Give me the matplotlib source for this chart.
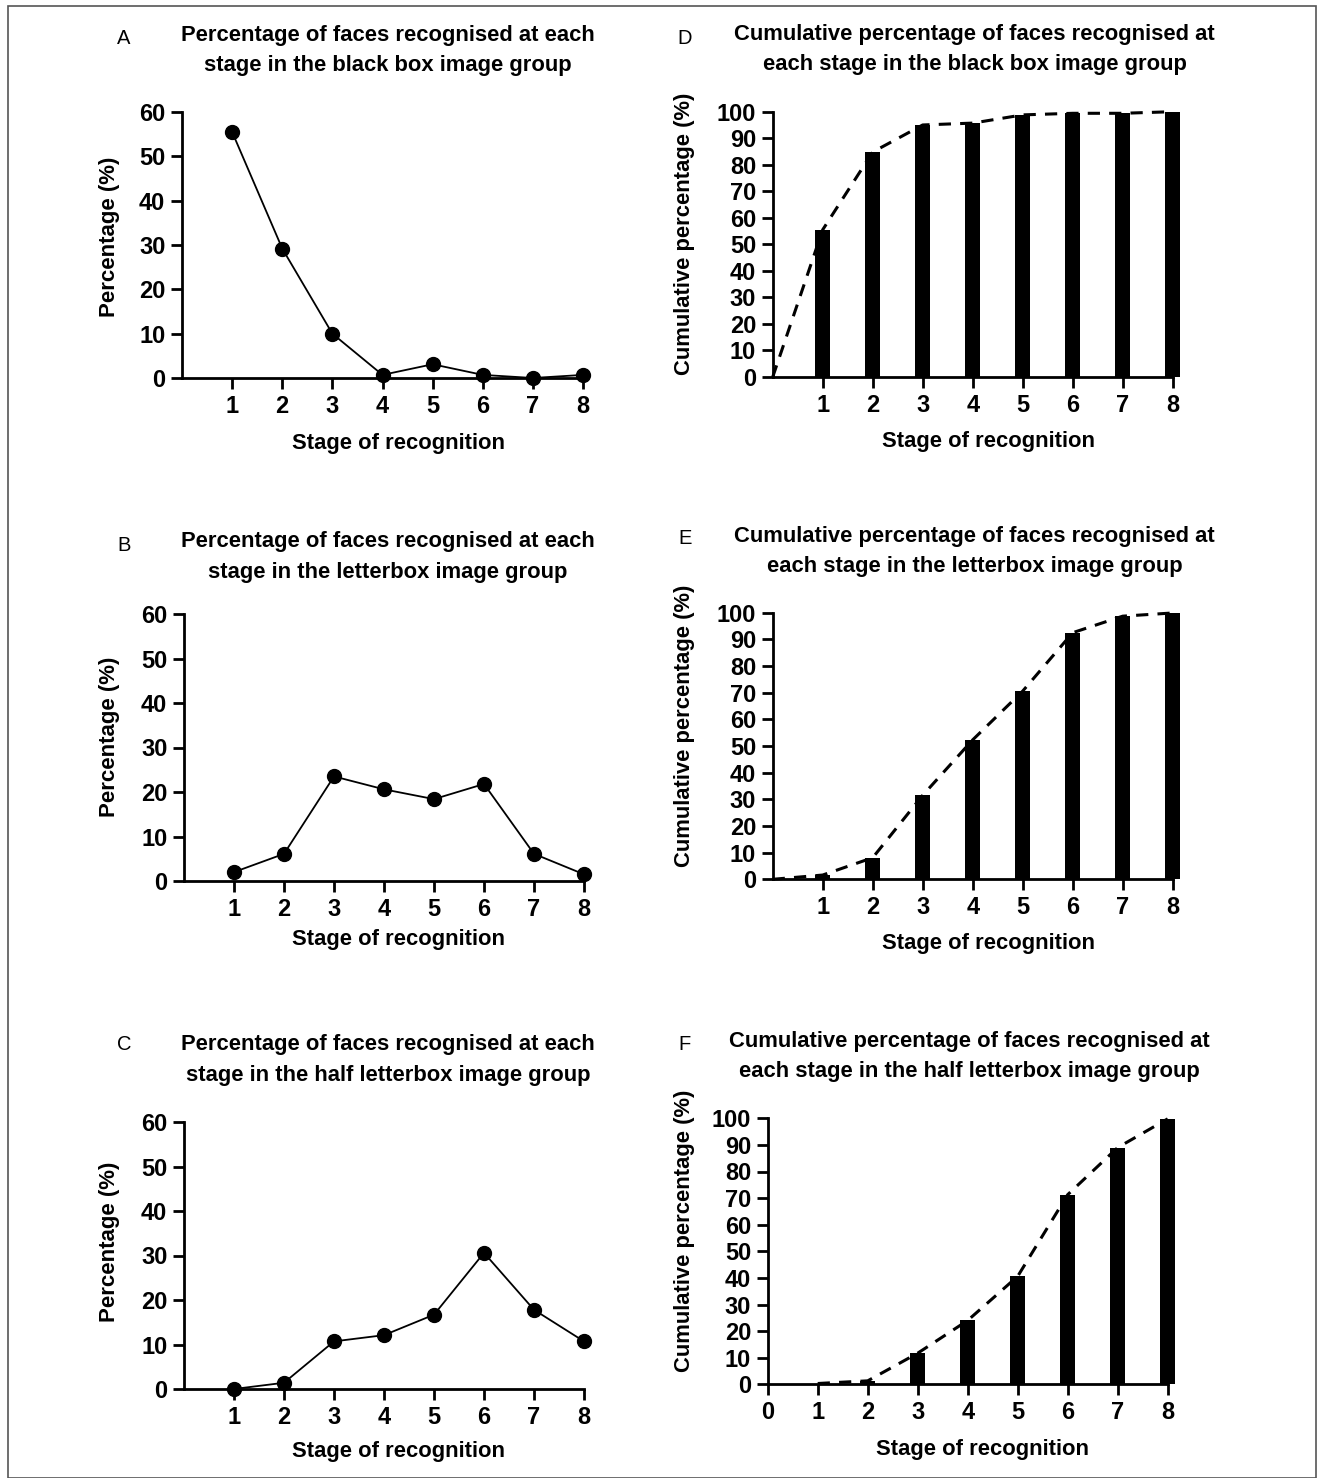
# -*- coding: utf-8 -*-
import numpy as np
import matplotlib
matplotlib.use('Agg')
import matplotlib.pyplot as plt
from matplotlib.patches import Rectangle

plt.rcParams['font.family'] = ['Liberation Sans', 'DejaVu Sans']

W, H = 1318, 1478

stages = [1, 2, 3, 4, 5, 6, 7, 8]

# per-stage percentages (left column)
black_box = [55.5, 29.2, 10.0, 0.7, 3.1, 0.7, 0.0, 0.7]
letterbox = [2.0, 6.1, 23.5, 20.6, 18.4, 21.8, 6.1, 1.5]
half_letterbox = [0.0, 1.4, 10.7, 12.1, 16.7, 30.6, 17.8, 10.7]

# cumulative percentages (right column)
cum_black_box = [55.5, 84.8, 95.0, 95.7, 98.8, 99.4, 99.4, 100.0]
cum_letterbox = [1.6, 8.1, 31.5, 52.3, 70.6, 92.5, 98.7, 99.9]
cum_half_letterbox = [0.3, 1.3, 11.7, 24.0, 40.6, 71.3, 89.0, 99.8]

left_titles = [
    'Percentage of faces recognised at each\nstage in the black box image group',
    'Percentage of faces recognised at each\nstage in the letterbox image group',
    'Percentage of faces recognised at each\nstage in the half letterbox image group',
]
right_titles = [
    'Cumulative percentage of faces recognised at\neach stage in the black box image group',
    'Cumulative percentage of faces recognised at\neach stage in the letterbox image group',
    'Cumulative percentage of faces recognised at\neach stage in the half letterbox image group',
]


def add_axes(fig, left, right, top, bottom):
    return fig.add_axes([left / W, 1 - bottom / H, (right - left) / W, (bottom - top) / H])


def style(ax, ymax, step, show_zero=False):
    for s in ['top', 'right']:
        ax.spines[s].set_visible(False)
    for s in ['left', 'bottom']:
        ax.spines[s].set_linewidth(2)
    ax.set_xlim(0, 8)
    ax.set_ylim(0, ymax)
    ax.set_yticks(range(0, ymax + 1, step))
    if show_zero:
        ax.set_xticks(range(0, 9))
    else:
        ax.set_xticks(stages)
    ax.tick_params(width=2, length=8, labelsize=17, pad=4)
    for lab in ax.get_xticklabels() + ax.get_yticklabels():
        lab.set_fontweight('bold')


fig = plt.figure(figsize=(W / 100, H / 100), dpi=100)

# outer frame
fig.patches.append(Rectangle((8 / W, 0), (1316 - 8) / W, 1 - 6 / H, transform=fig.transFigure,
                             fill=False, edgecolor='#555555', linewidth=1.2))

# left column: line charts
left_boxes = [(182, 583, 112, 378), (184, 584, 614, 881), (184, 584, 1122, 1389)]
left_data = [black_box, letterbox, half_letterbox]
left_ylab = [0.53, 0.54, 0.55]
title_y_left = [50.5, 557, 1060]
letters_left = [('A', 38), ('B', 545), ('C', 1044)]
xlab_y_left = [443, 940, 1452]

for k in range(3):
    l, r, t, b = left_boxes[k]
    ax = add_axes(fig, l, r, t, b)
    ax.plot(stages, left_data[k], color='black', linewidth=1.3, marker='o',
            markersize=10, clip_on=False, zorder=3)
    style(ax, 60, 10)
    ax.set_ylabel('Percentage (%)', fontsize=16, fontweight='bold')
    ax.yaxis.set_label_coords((120 - l) / (r - l), left_ylab[k])
    ax.set_xlabel('Stage of recognition', fontsize=15.8, fontweight='bold', va='center')
    ax.xaxis.set_label_coords((398 - l) / (r - l), (b - xlab_y_left[k]) / (b - t))
    fig.text(388 / W, 1 - title_y_left[k] / H, left_titles[k], ha='center', va='center',
             fontsize=15.8, fontweight='bold', linespacing=1.62)
    fig.text(124 / W, 1 - letters_left[k][1] / H, letters_left[k][0], ha='center',
             va='center', fontsize=14.5)

# right column: cumulative bar charts with dashed trend line
right_boxes = [(772.7, 1172.7, 111.7, 377), (772.7, 1172.7, 612.7, 879.3),
               (767.7, 1167.7, 1118.3, 1384.3)]
right_data = [cum_black_box, cum_letterbox, cum_half_letterbox]
right_ylab = [0.54, 0.575, 0.576]
title_y_right = [49.5, 551.5, 1056.5]
title_x_right = [974.5, 974.5, 969.5]
letters_right = [('D', 685, 38), ('E', 685, 538), ('F', 684, 1045)]
xlab_right = [(988, 442), (988, 944), (983, 1449)]

for k in range(3):
    l, r, t, b = right_boxes[k]
    ax = add_axes(fig, l, r, t, b)
    vals = right_data[k]
    ax.bar(stages, vals, width=0.31, color='black', clip_on=False, zorder=2)
    if k < 2:
        cx, cy = [0] + stages, [0] + vals
    else:
        cx, cy = stages, vals
    ax.plot(cx, cy, color='black', linewidth=2.2, linestyle=(0, (4, 3)),
            solid_joinstyle='round', clip_on=False, zorder=3)
    style(ax, 100, 10, show_zero=(k == 2))
    ax.set_ylabel('Cumulative percentage (%)', fontsize=15.8, fontweight='bold')
    ax.yaxis.set_label_coords((695 - l) / (r - l), right_ylab[k])
    ax.set_xlabel('Stage of recognition', fontsize=15.8, fontweight='bold', va='center')
    ax.xaxis.set_label_coords((xlab_right[k][0] - l) / (r - l), (b - xlab_right[k][1]) / (b - t))
    fig.text(title_x_right[k] / W, 1 - title_y_right[k] / H, right_titles[k], ha='center',
             va='center', fontsize=15.8, fontweight='bold', linespacing=1.62)
    fig.text(letters_right[k][1] / W, 1 - letters_right[k][2] / H, letters_right[k][0],
             ha='center', va='center', fontsize=14.5)

fig.savefig('out.png', dpi=100)
